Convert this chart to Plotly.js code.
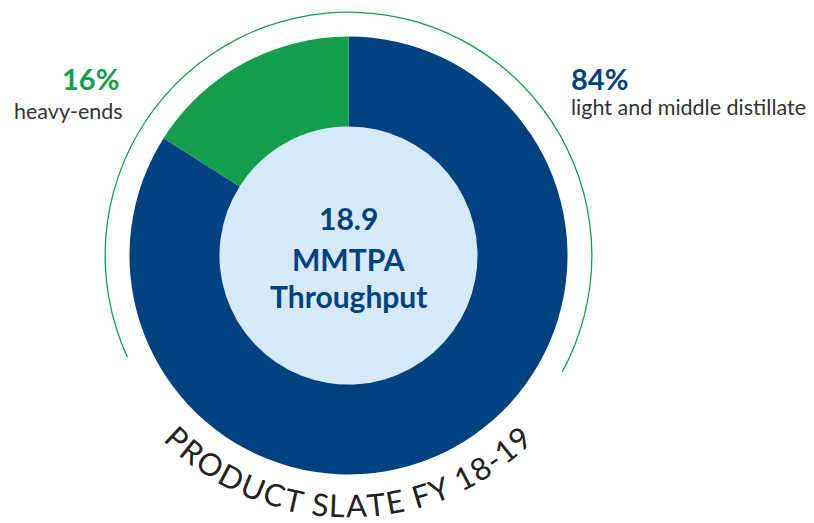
<!DOCTYPE html>
<html>
<head>
<meta charset="utf-8">
<script src="https://cdn.plot.ly/plotly-3.0.1.min.js"></script>
<style>
html,body{margin:0;padding:0;background:#fff;}
#chart{width:814px;height:523px;}
</style>
</head>
<body>
<div id="chart"></div>
<script>
// ---- data ----
const categories = ["light and middle distillate", "heavy-ends"];
const shares = [84, 16];
const shareLabels = ["84%", "16%"];
const centerLines = ["18.9", "MMTPA", "Throughput"];
const chartTitle = "PRODUCT SLATE FY 18-19";

// ---- geometry (pixels) ----
const W = 814, H = 523;
const cx = 348.5, cy = 255.5;
const rOuter = 219, rHole = 129, rArc = 244;
const arcStartDeg = -28.6, arcEndDeg = 204.7; // standard angles of the decorative ring

const BLUE = "#00427f", GREEN = "#169e4f", LIGHT = "#d5e9f8", GREY = "#333333";

function dom(r) {
  return {
    x: [(cx - r) / W, (cx + r) / W],
    y: [1 - (cy + r) / H, 1 - (cy - r) / H]
  };
}
const px = x => x / W;
const py = y => 1 - y / H;

const arcSpan = arcEndDeg - arcStartDeg;

const traces = [
  { // decorative thin ring
    type: "pie", values: [arcSpan, 360 - arcSpan], sort: false,
    direction: "counterclockwise", rotation: 90 - arcEndDeg,
    hole: 1 - 1.3 / rArc, domain: dom(rArc),
    marker: { colors: [GREEN, "rgba(0,0,0,0)"], line: { width: 0 } },
    textinfo: "none", hoverinfo: "skip", showlegend: false
  },
  { // light-blue centre disc
    type: "pie", values: [1], sort: false, domain: dom(rHole),
    marker: { colors: [LIGHT], line: { width: 0 } },
    textinfo: "none", hoverinfo: "skip", showlegend: false
  },
  { // main donut
    type: "pie", labels: categories, values: shares, sort: false,
    direction: "counterclockwise", rotation: 0,
    hole: rHole / rOuter, domain: dom(rOuter),
    marker: { colors: [BLUE, GREEN], line: { width: 0 } },
    textinfo: "none", showlegend: false
  }
];

const annotations = [];
function ann(text, x, y, opts) {
  annotations.push(Object.assign({
    text: text, x: px(x), y: py(y), xref: "paper", yref: "paper",
    showarrow: false, borderpad: 0
  }, opts));
}
// side labels
ann(shareLabels[1], 120, 78, { xanchor: "right", yanchor: "middle",
  font: { family: "Lato", size: 29, weight: 700, color: GREEN } });
ann(categories[1], 124, 111, { xanchor: "right", yanchor: "middle",
  font: { family: "Lato", size: 21.5, color: GREY } });
ann(shareLabels[0], 570, 78, { xanchor: "left", yanchor: "middle",
  font: { family: "Lato", size: 29, weight: 700, color: BLUE } });
ann(categories[0], 570, 107, { xanchor: "left", yanchor: "middle",
  font: { family: "Lato", size: 21.5, color: GREY } });
// centre text
const centerY = [218, 259, 296];
centerLines.forEach((t, i) => ann(t, cx, centerY[i], { xanchor: "center", yanchor: "middle",
  font: { family: "Lato", size: 30, weight: 700, color: BLUE } }));

// curved title along the bottom
(function () {
  const fs = 31, R = 250, targetSpan = 376;
  const c = document.createElement("canvas").getContext("2d");
  c.font = "400 " + fs + "px Lato";
  const chars = chartTitle.split("");
  const w = chars.map(ch => c.measureText(ch).width || fs * 0.55);
  const n = chars.length;
  let base = [], acc = 0;
  for (let i = 0; i < n; i++) { base.push(acc + w[i] / 2); acc += w[i]; }
  const rawSpan = base[n - 1] - base[0];
  const s = (targetSpan - rawSpan) / (n - 1);
  const centers = base.map((b, i) => b + i * s);
  const mid = (centers[0] + centers[n - 1]) / 2;
  chars.forEach((ch, i) => {
    if (ch === " ") return;
    const phi = 1.5 * Math.PI + (centers[i] - mid) / R;
    const x = cx + R * Math.cos(phi);
    const y = cy - R * Math.sin(phi);
    ann(ch, x, y, { xanchor: "center", yanchor: "middle",
      textangle: 270 - phi * 180 / Math.PI,
      font: { family: "Lato", size: fs, color: "#222222" } });
  });
})();

const layout = {
  width: W, height: H,
  margin: { l: 0, r: 0, t: 0, b: 0, pad: 0 },
  paper_bgcolor: "#ffffff", plot_bgcolor: "#ffffff",
  showlegend: false,
  annotations: annotations
};
Plotly.newPlot("chart", traces, layout, { displayModeBar: false, staticPlot: true });
</script>
</body>
</html>
